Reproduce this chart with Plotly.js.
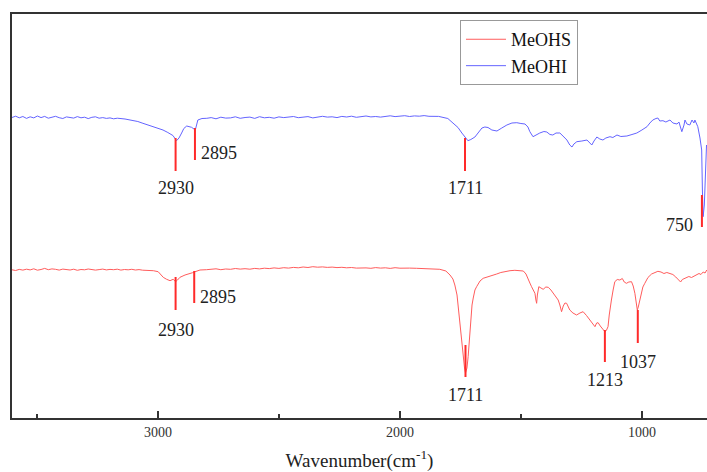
<!DOCTYPE html>
<html>
<head>
<meta charset="utf-8">
<script src="https://cdn.plot.ly/plotly-3.0.1.min.js"></script>
<style>html,body{margin:0;padding:0;background:#fff;}#chart{width:707px;height:472px;}</style>
</head>
<body>
<div id="chart"></div>
<script>
// MeOHI (blue) spectrum: wavenumber (cm-1) and transmittance (arbitrary units)
var blueWn = [3603,3588,3573,3558,3543,3528,3513,3498,3483,3468,3453,3438,3423,3408,3393,3378,3363,3348,3333,3318,3303,3288,3273,3258,3243,3228,3213,3198,3183,3168,
3136,3107,3083,3062,3033,3004,2979,2959,2938,2923,2913,2902,2893,2881,2872,2861,2851,2845,2835,2818,2798,
2780,2760,2740,2720,2700,2680,2660,2640,2620,2600,2580,2560,2540,2520,2500,2480,2460,2440,2420,2400,2380,2360,2340,2320,2300,2280,2260,2240,2220,2200,2180,2160,2140,2120,2100,2080,2060,2040,2020,2000,1980,1960,1940,1920,1900,1880,1860,1840,
1802,1781,1760,1744,1731,1719,1707,1690,1674,1661,1649,1636,1620,1599,1579,1558,1537,1517,1500,1483,1471,1463,1450,1438,1422,1405,1393,1380,1368,1355,1339,1322,1310,1298,1289,1281,1269,1248,1227,1215,1207,1198,1186,1174,1161,1149,1132,1120,1103,1087,1062,1041,1021,1000,979,967,955,942,934,926,913,901,884,872,855,847,835,826,822,814,802,793,785,781,773,769,760,753,750,747,742,738,733];
var blueT = [300.5,301.8,300.2,301.5,299.6,301.2,300.1,302,300.4,301.6,299.8,300.9,301.7,300.3,299.5,301.1,300.6,299.9,301.4,300.2,300.8,299.4,300.7,301.2,299.8,300.4,299.6,300.1,299.2,299.8,
299,298,296.5,294.7,292.5,290.5,288,285.5,282.5,277.3,280,285,289.5,292,291.5,290.7,289,288.5,298,299.5,299.7,
300.4,299.2,300.8,299.9,300.1,301.2,299.7,300.5,300.9,299.6,301.3,300.2,300.7,299.8,301.1,300.4,300.9,301.5,300.3,300.8,301.4,300.1,300.6,301.7,300.9,301.2,300.4,301.6,301,301.8,300.7,301.3,302,301.1,301.5,300.9,301.8,302.2,301.4,301.9,302.3,301.5,302.1,301.8,302.4,301.7,301.9,301.6,
299.5,295,290.5,285,280.5,277.3,278.5,281,286,290,291,290.5,288,287,290,293,295,295.3,294.5,294,291,286.3,281.3,283,285,286.5,286,283.5,283,285,285,281,278,273,271,274,276.3,277,278,275,273,277,281,279,278,280,281.3,280.5,283,281.5,282,283.5,285,288,291.3,295,298,299.5,300,297,297.3,296,298,295,294,296,286.3,293,298,294,293,298,295,298,294,291.3,280,268,228,201.3,213,243,273];

// MeOHS (red) spectrum
var redWn = [3603,3588,3573,3558,3543,3528,3513,3498,3483,3468,3453,3438,3423,3408,3393,3378,3363,3348,3333,3318,3303,3288,3273,3258,3243,3228,3213,3198,3183,3168,3153,3138,3123,3108,3093,3078,3063,
3019,2999,2978,2964,2950,2937,2927,2919,2909,2888,2868,2857,2850,2840,2826,2799,
2780,2760,2740,2720,2700,2680,2660,2640,2620,2600,2580,2560,2540,2520,2500,2480,2460,2440,2420,2400,2380,2360,2340,2320,2300,2280,2260,2240,2220,2200,2180,2160,2140,2120,2100,2080,2060,2040,2020,2000,1980,1960,
1931,1884,1835,1810,1793,1781,1773,1764,1759,1752,1745,1740,1733,1729,1723,1718,1713,1709,1702,1697,1690,1683,1669,1656,1636,1620,1600,1583,1566,1545,1525,1504,1490,1479,1470,1463,1456,1448,1442,1438,1435,1432,1426,1417,1408,1397,1387,1376,1367,1356,1346,1339,1332,1325,1318,1311,1304,1298,1285,1270,1256,1243,1229,1215,1205,1194,1187,1181,1172,1160,1153,1147,1140,1135,1131,1126,1119,1112,1102,1091,1081,1073,1064,1054,1043,1036,1029,1023,1019,1015,1008,1002,996,988,975,960,946,934,921,909,897,884,872,860,847,840,833,824,815,806,795,785,774,764,756,747,739,732];
var redT = [148.2,147.5,148.6,147.9,148.8,148.1,149.2,147.8,148.5,149.6,148.3,149.1,148.7,147.9,148.9,148.4,148,148.8,147.7,148.5,148.2,149,148.6,147.9,148.4,148.9,148.1,148.6,148.3,148.8,147.9,148.5,148.2,148.7,148,148.4,147.8,
147.3,146.3,140.7,138.7,137.3,138.7,136.3,138,140.7,143,144,145.3,146,146.7,148,148.3,
148.6,149.2,148.3,149,148.7,149.5,148.9,149.3,148.8,149.6,149.1,149.8,149.4,150.1,149.6,150.3,149.9,150.6,150.2,151,150.5,151.3,150.8,151.1,150.6,150.9,150.4,150.7,150.2,150.5,149.9,150.3,150.1,149.7,150.4,149.9,150.2,149.6,150.3,149.8,150.2,149.9,
149.7,149.5,148.7,147,143,139,133,123,111.3,96,78,63,50,45,50,61.3,78,98,113,120,128,131.3,137,139.7,141,142.5,144,145.5,146.5,147.3,147.7,147.5,147,144,139.7,135,131.3,128,124.7,118,114.7,123,131.3,130,128.7,131,130.7,128,124.7,121,118,113,106.3,112,115,114.7,111,108,105,103,105,106.3,102.5,98,94,91.3,95,95.3,92,88,86.3,87.5,91.3,103,113,118,128,136.3,138.5,138,139.5,136,134.7,136,136.3,132,124.7,113,108,111,118,125,131,134.7,140.5,144,145.5,146.7,146,144.5,145.5,144.7,143.5,141,138,136,138.5,139.5,140.7,141.5,140.5,142,143,144.5,143.5,146,145,148];

// Peak marker lines and labels
var bluePeakWn = [2927, 2847, 1731, 752];
var bluePeakTop = [280, 290, 280, 223];
var bluePeakBottom = [247, 258, 247, 191];
var bluePeakLabels = ["2930", "2895", "1711", "750"];
var bluePeakLabelWn = [2926, 2831, 1731, 781];
var bluePeakLabelT = [230, 265, 230, 193];
var bluePeakLabelAnchor = ["center", "left", "center", "right"];

var redPeakWn = [2927, 2850, 1729, 1153, 1017];
var redPeakTop = [141, 147, 73, 88, 108];
var redPeakBottom = [108, 115, 41, 56, 75];
var redPeakLabels = ["2930", "2895", "1711", "1213", "1037"];
var redPeakLabelWn = [2926, 2835, 1731, 1153, 1017];
var redPeakLabelT = [88, 121, 23, 38, 56];
var redPeakLabelAnchor = ["center", "left", "center", "center", "center"];

var seriesNames = ["MeOHS", "MeOHI"];
var xTickVals = [3000, 2000, 1000];

var RED = "#ff5c5c", BLUE = "#6464ff", MARK = "#ff2a2a";
var FONT = "Liberation Serif, Times New Roman, serif";

function markerTrace(wn, top, bot) {
  var x = [], y = [];
  for (var i = 0; i < wn.length; i++) {
    x.push(wn[i], wn[i], null);
    y.push(top[i], bot[i], null);
  }
  return {x: x, y: y, mode: "lines", line: {color: MARK, width: 2}, showlegend: false, hoverinfo: "skip"};
}

var traces = [
  {x: redWn, y: redT, name: seriesNames[0], mode: "lines", line: {color: RED, width: 1}},
  {x: blueWn, y: blueT, name: seriesNames[1], mode: "lines", line: {color: BLUE, width: 1}},
  markerTrace(bluePeakWn, bluePeakTop, bluePeakBottom),
  markerTrace(redPeakWn, redPeakTop, redPeakBottom)
];

var annotations = [];
function addLabels(wn, t, labels, anchors) {
  for (var i = 0; i < wn.length; i++) {
    annotations.push({x: wn[i], y: t[i], xref: "x", yref: "y", text: labels[i], showarrow: false,
      xanchor: anchors[i], yanchor: "middle", font: {family: FONT, size: 18, color: "#222"}});
  }
}
addLabels(bluePeakLabelWn, bluePeakLabelT, bluePeakLabels, bluePeakLabelAnchor);
addLabels(redPeakLabelWn, redPeakLabelT, redPeakLabels, redPeakLabelAnchor);

var layout = {
  width: 707, height: 472,
  margin: {l: 12, r: 0, t: 14, b: 54},
  paper_bgcolor: "#fff", plot_bgcolor: "#fff",
  font: {family: FONT, color: "#222"},
  showlegend: true,
  legend: {x: 0.6446, y: 0.985, xanchor: "left", yanchor: "top", bgcolor: "rgba(255,255,255,0)",
    bordercolor: "#999", borderwidth: 1, font: {family: FONT, size: 18, color: "#111"},
    tracegroupgap: 0, itemwidth: 40},
  xaxis: {range: [3603, 731], tickvals: xTickVals, ticktext: xTickVals.map(String),
    ticks: "inside", ticklen: 7, tickwidth: 1.5, tickcolor: "#333",
    minor: {ticks: "inside", ticklen: 4, dtick: 500, tick0: 0, tickcolor: "#333", tickwidth: 1.5, showgrid: false},
    showline: true, linecolor: "#333", linewidth: 2, mirror: true,
    showgrid: false, zeroline: false,
    tickfont: {family: FONT, size: 14, color: "#333"},
    title: {text: "Wavenumber(cm<sup>-1</sup>)", font: {family: FONT, size: 19, color: "#222"}, standoff: 17}},
  yaxis: {range: [0, 404], showline: true, linecolor: "#333", linewidth: 2, mirror: false,
    showticklabels: false, ticks: "", showgrid: false, zeroline: false},
  annotations: annotations
};

Plotly.newPlot("chart", traces, layout, {staticPlot: true, displayModeBar: false});
</script>
</body>
</html>
